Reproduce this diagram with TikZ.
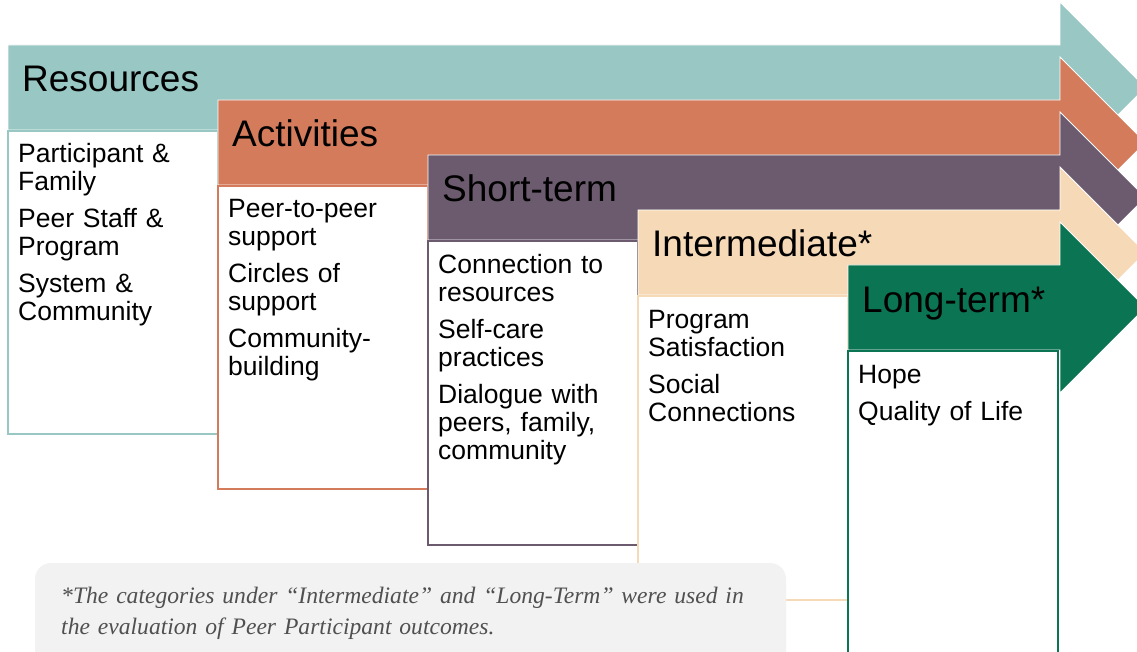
\documentclass[tikz,border=0pt]{standalone}
\usepackage{fontspec}
\setmainfont{Liberation Sans}
\newfontfamily\notefont{Liberation Serif}
\definecolor{cRes}{RGB}{152,199,196}
\definecolor{cAct}{RGB}{212,123,91}
\definecolor{cShort}{RGB}{108,91,111}
\definecolor{cInter}{RGB}{246,217,182}
\definecolor{cLong}{RGB}{11,116,82}
\definecolor{noteBg}{RGB}{242,242,242}
\definecolor{noteText}{RGB}{80,80,80}
\tikzset{
  stagearrow/.style={fill=#1, draw=white, line width=0.8pt},
  stagebox/.style={fill=white, draw=#1, line width=2.2pt},
  headtext/.style={anchor=base west, inner sep=0pt, font=\fontsize{37}{40}\selectfont},
  bodytext/.style={anchor=base west, inner sep=0pt, text width=195pt, align=left,
                   font=\fontsize{26.5}{28}\selectfont},
}
% one stage: bar with arrow head, header label, content box
% #1 colour, #2 left x, #3 top y of bar, #4 bottom y of box, #5 name, #6 header, #7 body
\newcommand{\stage}[7]{%
  \pgfmathsetmacro{\barB}{#3+85}%
  \pgfmathsetmacro{\midY}{#3+42.5}%
  \pgfmathsetmacro{\headT}{#3-43}%
  \pgfmathsetmacro{\headB}{#3+128}%
  \path[stagearrow=#1] (#2,#3) -- (1060,#3) -- (1060,\headT) -- (1145.5,\midY)
     -- (1060,\headB) -- (1060,\barB) -- (#2,\barB) -- cycle;
  \node[headtext] (#5-head) at (#2+14,#3+47) {#6};
  \path[stagebox=#1] (#2,\barB+1.2) rectangle (#2+210,#4);
  \node[bodytext] (#5-body) at (#2+10,#3+118) {#7};
}
\begin{document}
\begin{tikzpicture}[x=1pt,y=-1pt]
\useasboundingbox (0,0) rectangle (1137,652);
\clip (0,0) rectangle (1137,652);
\stage{cRes}{8}{45}{434}{res}{Resources}
  {Participant \&\\Family\\[9pt]Peer Staff \&\\Program\\[9pt]System \&\\Community}
\stage{cAct}{218}{100}{489}{act}{Activities}
  {Peer-to-peer\\support\\[9pt]Circles of\\support\\[9pt]Community-\\building}
\stage{cShort}{428}{155}{545}{short}{Short-term}
  {Connection to\\resources\\[9pt]Self-care\\practices\\[9pt]Dialogue with\\peers, family,\\community}
\stage{cInter}{638}{210}{600}{inter}{Intermediate*}
  {Program\\Satisfaction\\[9pt]Social\\Connections}
\stage{cLong}{848}{265}{700}{long}{Long-term*}
  {Hope\\[9pt]Quality of Life}
% footnote panel
\path[fill=noteBg, rounded corners=16pt] (35,563) rectangle (786,670);
\node[anchor=base west, inner sep=0pt, text width=720pt, align=left, text=noteText,
      font=\notefont\itshape\fontsize{23.6}{31}\selectfont] (note) at (61,603)
  {*The categories under “Intermediate” and “Long-Term” were used in\\
   the evaluation of Peer Participant outcomes.};
\end{tikzpicture}
\end{document}
